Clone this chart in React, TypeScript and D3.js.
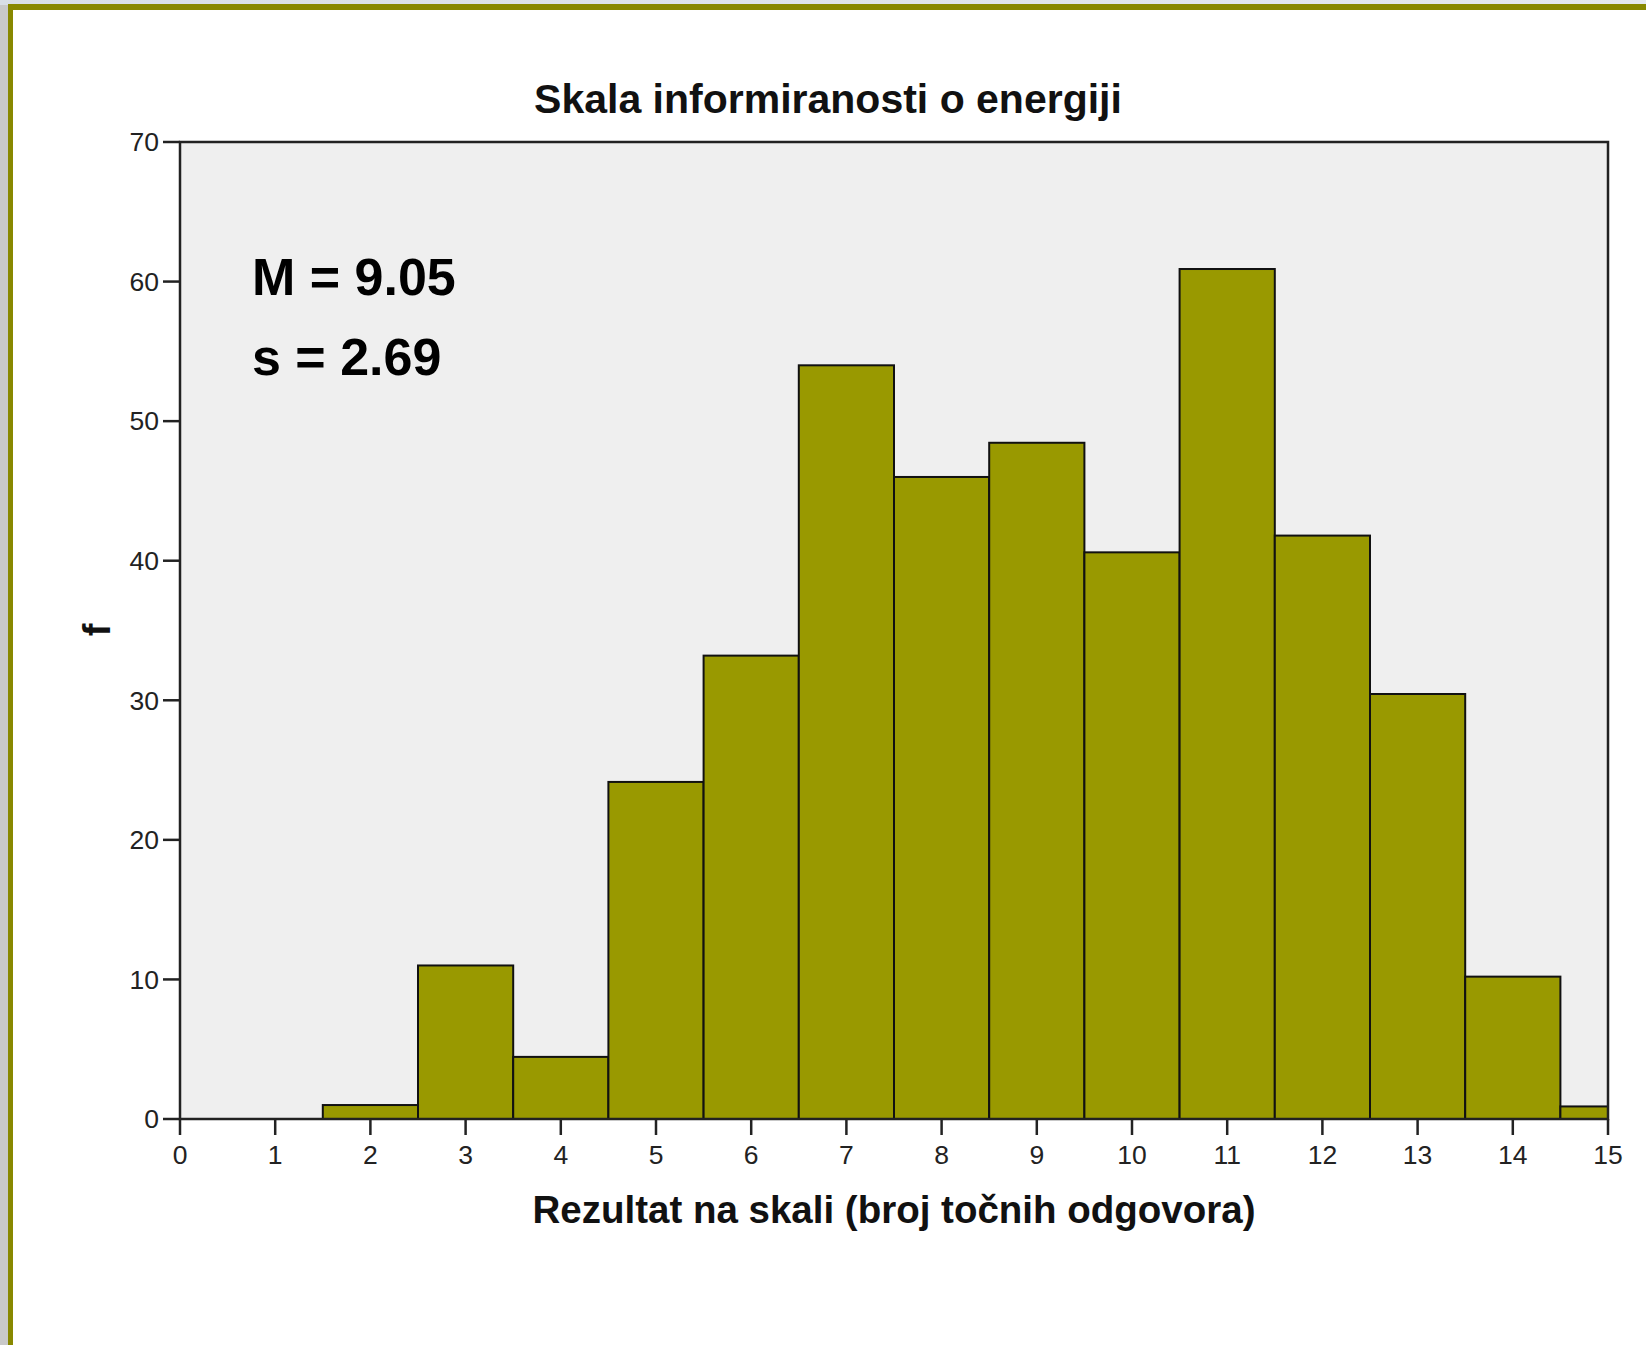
import React from "react";
import * as d3 from "d3";

const scores = [0, 1, 2, 3, 4, 5, 6, 7, 8, 9, 10, 11, 12, 13, 14, 15];
const freq = [0, 0, 1, 11, 4.45, 24.15, 33.2, 54, 46, 48.45, 40.6, 60.9, 41.8, 30.45, 10.2, 0.9];
const xTicks = [0, 1, 2, 3, 4, 5, 6, 7, 8, 9, 10, 11, 12, 13, 14, 15];
const yTicks = [0, 10, 20, 30, 40, 50, 60, 70];
const titleText = "Skala informiranosti o energiji";
const xLabel = "Rezultat na skali (broj točnih odgovora)";
const yLabel = "f";
const statLines = ["M = 9.05", "s = 2.69"];

const W = 1646;
const H = 1345;
const FONT = "'Liberation Sans', Arial, Helvetica, sans-serif";

export default function App() {
  const left = 180, right = 1608, top = 142, bottom = 1119;
  const x = d3.scaleLinear().domain([0, 15]).range([left, right]);
  const y = d3.scaleLinear().domain([0, 70]).range([bottom, top]);

  const bars = scores
    .map((s, i) => ({ s, v: freq[i] }))
    .filter((d) => d.v > 0)
    .map((d) => {
      const x0 = Math.max(0, d.s - 0.5);
      const x1 = Math.min(15, d.s + 0.5);
      return { x: x(x0), w: x(x1) - x(x0), y: y(d.v), h: y(0) - y(d.v) };
    });

  return (
    <svg
      width={W}
      height={H}
      style={{ position: "absolute", left: 0, top: 0, display: "block" }}
      fontFamily={FONT}
    >
      <defs>
        <linearGradient id="bgTop" x1="0" y1="0" x2="1" y2="0">
          <stop offset="0" stopColor="#d9dfe6" />
          <stop offset="1" stopColor="#e4e8ee" />
        </linearGradient>
      </defs>
      <rect x={0} y={0} width={W} height={H} fill="#c9c9c9" />
      <rect x={0} y={0} width={W} height={5} fill="url(#bgTop)" />
      <rect x={8} y={4} width={W - 8} height={H - 4} fill="#888800" />
      <rect x={13} y={10} width={W - 13} height={H - 10} fill="#ffffff" />

      <rect x={left} y={top} width={right - left} height={bottom - top} fill="#efefef" />

      {bars.map((b, i) => (
        <rect
          key={i}
          x={b.x}
          y={b.y}
          width={b.w}
          height={b.h}
          fill="#999900"
          stroke="#111"
          strokeWidth={2}
        />
      ))}

      <rect
        x={left}
        y={top}
        width={right - left}
        height={bottom - top}
        fill="none"
        stroke="#222"
        strokeWidth={2.5}
      />

      {yTicks.map((t) => (
        <g key={"y" + t}>
          <line x1={left - 17} x2={left} y1={y(t)} y2={y(t)} stroke="#222" strokeWidth={2.5} />
          <text
            x={left - 21}
            y={y(t)}
            dy="0.35em"
            textAnchor="end"
            fontSize={26.5}
            fill="#222"
          >
            {t}
          </text>
        </g>
      ))}

      {xTicks.map((t) => (
        <g key={"x" + t}>
          <line x1={x(t)} x2={x(t)} y1={bottom} y2={bottom + 16} stroke="#222" strokeWidth={2.5} />
          <text x={x(t)} y={bottom + 45} textAnchor="middle" fontSize={26.5} fill="#222">
            {t}
          </text>
        </g>
      ))}

      <text x={828} y={113} textAnchor="middle" fontSize={41} fontWeight="bold" fill="#111">
        {titleText}
      </text>

      <text x={894} y={1223} textAnchor="middle" fontSize={38.5} fontWeight="bold" fill="#111">
        {xLabel}
      </text>

      <text
        transform={`translate(110, 630) rotate(-90)`}
        textAnchor="middle"
        fontSize={38}
        fontWeight="bold"
        fill="#111"
      >
        {yLabel}
      </text>

      {statLines.map((s, i) => (
        <text key={s} x={252} y={295 + i * 80} fontSize={52} fontWeight="bold" fill="#000">
          {s}
        </text>
      ))}
    </svg>
  );
}
